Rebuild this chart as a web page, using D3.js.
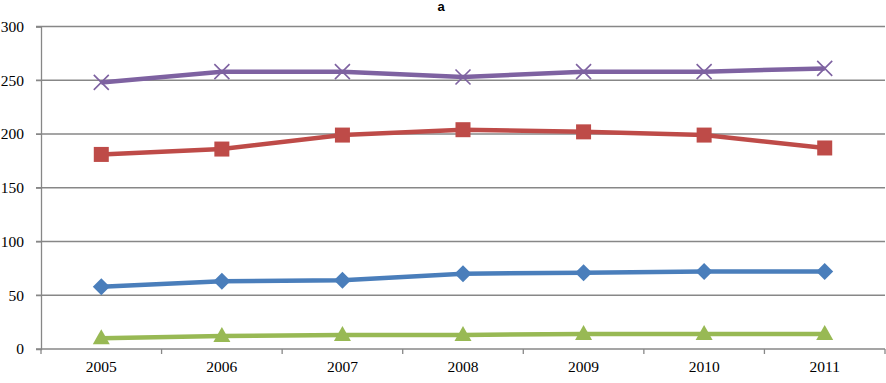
<!DOCTYPE html>
<html><head><meta charset="utf-8">
<script src="https://cdn.jsdelivr.net/npm/d3@7"></script>
<style>html,body{margin:0;padding:0;background:#fff;}svg{display:block;}</style>
</head><body>
<script>
const years = ["2005","2006","2007","2008","2009","2010","2011"];
const purpleX = [248,258,258,253,258,258,261];
const redSquare = [181,186,199,204,202,199,187];
const blueDiamond = [58,63,64,70,71,72,72];
const greenTriangle = [10,12,13,13,14,14,14];
const yTicks = [0,50,100,150,200,250,300];
const title = "a";

(function(){
const W=886,H=383;
const svg=d3.select("body").append("svg").attr("width",W).attr("height",H);
const pL=41,pR=885,pT=26.5,pB=349;
const x=d3.scaleBand().domain(years).range([pL,pR]);
const y=d3.scaleLinear().domain([0,300]).range([pB,pT]);
const grid="#878787";
const serif="'Liberation Serif','Times New Roman',serif";

svg.append("g").selectAll("line").data(yTicks).join("line")
 .attr("x1",pL-5).attr("x2",pR).attr("y1",d=>y(d)).attr("y2",d=>y(d))
 .attr("stroke",grid).attr("stroke-width",1.3);
const ya=svg.append("g").attr("transform",`translate(${pL},0)`)
 .call(d3.axisLeft(y).tickValues(yTicks).tickSize(5).tickPadding(12));
ya.select(".domain").attr("stroke",grid).attr("stroke-width",1.3);
ya.selectAll(".tick line").attr("stroke",grid);
ya.selectAll("text").attr("font-family",serif).attr("font-size",15.5).attr("fill","#000");
const xa=svg.append("g").attr("transform",`translate(0,${pB})`)
 .call(d3.axisBottom(x).tickSize(0).tickPadding(12));
xa.select(".domain").remove();
xa.selectAll("text").attr("font-family",serif).attr("font-size",15.5).attr("fill","#000");
const bounds=years.map(d=>x(d)).concat([pR]);
svg.append("g").selectAll("line").data(bounds).join("line")
 .attr("x1",d=>d).attr("x2",d=>d).attr("y1",pB).attr("y2",pB+5)
 .attr("stroke",grid).attr("stroke-width",1.3);

const cx=d=>x(d)+x.bandwidth()/2;
const series=[
 {v:purpleX,c:"#7E62A1",m:"x"},
 {v:redSquare,c:"#BE4B48",m:"square"},
 {v:blueDiamond,c:"#4A7EBB",m:"diamond"},
 {v:greenTriangle,c:"#98B954",m:"triangle"}
];
const line=d3.line().x((d,i)=>cx(years[i])).y(d=>y(d));
series.forEach(s=>{
 svg.append("path").attr("d",line(s.v)).attr("fill","none").attr("stroke",s.c).attr("stroke-width",4.5).attr("stroke-linejoin","round");
 const g=svg.append("g");
 s.v.forEach((d,i)=>{
  const px=cx(years[i]),py=y(d);
  if(s.m==="x"){
   const r=7.5;
   g.append("path").attr("d",`M${px-r},${py-r}L${px+r},${py+r}M${px-r},${py+r}L${px+r},${py-r}`)
    .attr("stroke",s.c).attr("stroke-width",1.6).attr("fill","none");
  } else if(s.m==="square"){
   g.append("rect").attr("x",px-7.5).attr("y",py-7.5).attr("width",15).attr("height",15).attr("fill",s.c);
  } else if(s.m==="diamond"){
   const r=8.5;
   g.append("path").attr("d",`M${px},${py-r}L${px+r},${py}L${px},${py+r}L${px-r},${py}Z`).attr("fill",s.c);
  } else {
   g.append("path").attr("d",`M${px},${py-9}L${px+8.5},${py+6}L${px-8.5},${py+6}Z`).attr("fill",s.c);
  }
 });
});
svg.append("text").attr("x",441).attr("y",11).attr("text-anchor","middle")
 .attr("font-family","'Liberation Sans',Arial,sans-serif").attr("font-weight","bold").attr("font-size",13).text(title);
})();
</script>
</body></html>
